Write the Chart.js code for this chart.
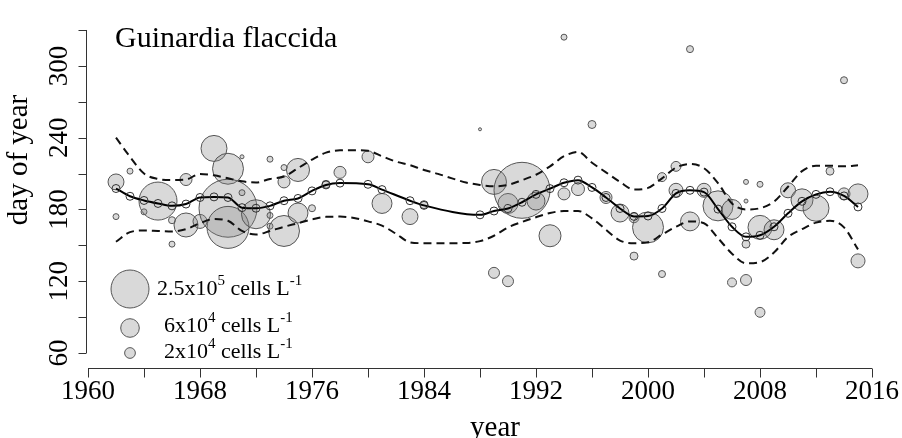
<!DOCTYPE html>
<html>
<head>
<meta charset="utf-8">
<script src="https://cdn.jsdelivr.net/npm/chart.js"></script>
<style>
html,body{margin:0;padding:0;background:#fff;}
#wrap{width:902px;height:438px;}
</style>
</head>
<body>
<div id="wrap"><canvas id="c" width="902" height="438"></canvas></div>
<script>
// ---- data ----
const chartTitle = "Guinardia flaccida";
const xTitle = "year";
const yTitle = "day of year";
const xTickValues = [1960,1964,1968,1972,1976,1980,1984,1988,1992,1996,2000,2004,2008,2012,2016];
const xTickLabels = ["1960","","1968","","1976","","1984","","1992","","2000","","2008","","2016"];
const yTickValues = [60,90,120,150,180,210,240,270,300,330];
const yTickLabels = ["60","","120","","180","","240","","300",""];

// observations: year, day of year, abundance (cells per litre)
const obsYear = [1962,1962,1963,1964,1965,1966,1966,1967,1967,1968,1969,1970,1970,1970,1971,1971,1972,1973,1973,1973,1974,1974,1974,1975,1975,1976,1977,1978,1980,1981,1983,1984,1988,1989,1989,1990,1990,1991,1992,1993,1994,1994,1995,1996,1997,1998,1999,1999,2000,2001,2001,2002,2002,2003,2003,2004,2005,2006,2006,2007,2007,2007,2007,2008,2008,2008,2009,2010,2011,2012,2013,2014,2014,2015,2015];
const obsDay  = [203,174,212,178,187,151,171,205,167,170,231,214,181,165,224,194,176,222,175,166,215,203,162,213,177,181,201,211,224,185,174,184,247,203,127,185,120,196,187,158,324,193,197,251,190,177,173,141,165,207,126,216,196,314,170,196,183,180,119,203,187,151,121,201,165,94,163,196,188,181,212,288,193,193,137];
const obsCells= [44000,6200,6200,6200,250000,6200,8500,25000,100000,34000,117000,166000,582000,305000,2800,6200,146000,6200,6200,6200,6200,25000,166000,92000,69000,8500,11000,25000,25000,69000,44000,11000,1600,108000,21000,69000,21000,543000,56000,84000,6200,25000,29000,11000,25000,56000,17000,11000,166000,14000,8500,17000,34000,8500,62000,34000,156000,69000,14000,4300,2800,11000,21000,6200,100000,17000,69000,39000,84000,117000,11000,8500,25000,69000,34000];

// smoothed trend at sampled years
const fitYear = [1962,1963,1964,1965,1966,1967,1968,1969,1970,1971,1972,1973,1974,1975,1976,1977,1978,1980,1981,1983,1984,1988,1989,1990,1991,1992,1993,1994,1995,1996,1997,1998,1999,2000,2001,2002,2003,2004,2005,2006,2007,2008,2009,2010,2011,2012,2013,2014,2015];
const fitDay  = [197.5,191,187.5,185,183,184.5,190,190.5,190,181.5,181,183,187.3,189.2,195.5,200.5,202,201,196.6,187.3,183.4,175.5,178.7,180.8,186,192.6,197.4,202.3,204.5,198.4,190,180.8,174.2,174.5,180.8,193.4,196,194.5,180.3,165.5,157.1,158.4,165.5,176.8,186.8,192.6,194.8,191.3,182.1];

// confidence band
const bandYear  = [1962,1963,1964,1965,1966,1967,1968,1969,1970,1971,1972,1973,1974,1975,1976,1977,1978,1979,1980,1981,1982,1983,1984,1985,1986,1987,1988,1989,1990,1991,1992,1993,1994,1995,1996,1997,1998,1999,2000,2001,2002,2003,2004,2005,2006,2007,2008,2009,2010,2011,2012,2013,2014,2015];
const bandUpper = [240,224,210,205.5,204.5,205,209.7,208.5,206,203.5,202.5,205.5,207.5,214.5,221.6,227.5,229.4,229.5,229,224.5,220,217,213,209.7,206,202.5,200.5,199.3,200.5,204.5,209,216,224.5,228,219,211,203,196.6,198,206,215,218,214.5,202,185,180,181,186.5,199,212,216.5,216.5,216,217];
const bandLower = [153,161,162.4,162,161.6,163.5,168.5,172,170.5,162,159,162,165.5,168.5,171.6,173.8,174,172.9,170,166.5,159.7,152.5,151.8,151.8,151.8,152,153.5,158,165,169.5,173.5,177,178.7,178.7,172.5,163,154,151.8,152.5,159,165.5,170,168.5,156,143,135,136,144,157,163.5,169,170.5,165,146.6];

// legend reference abundances
const legendCells = [250000, 60000, 20000];
const legendBase  = ["2.5x10", "6x10", "2x10"];
const legendExp   = ["5", "4", "4"];

// ---- build ----
const radiusOf = c => 0.038 * Math.sqrt(c);
const serif = '"Liberation Serif", "Times New Roman", serif';
const bubbleFill = 'rgba(128,128,128,0.3)';
const bubbleEdge = '#555555';

const bubbles = obsYear.map((y,i)=>({x:y, y:obsDay[i], r:radiusOf(obsCells[i])}));
const fit = fitYear.map((y,i)=>({x:y, y:fitDay[i]}));
const up = bandYear.map((y,i)=>({x:y, y:bandUpper[i]}));
const lo = bandYear.map((y,i)=>({x:y, y:bandLower[i]}));

const rAxes = {
  id:'rAxes',
  afterDraw(chart){
    const ctx = chart.ctx, xs = chart.scales.x, ys = chart.scales.y, ca = chart.chartArea;
    ctx.save();
    ctx.strokeStyle = '#333'; ctx.lineWidth = 1; ctx.fillStyle = '#000';
    // y axis
    const ax = Math.round(ca.left) - 1.5;
    ctx.beginPath();
    ctx.moveTo(ax, ys.getPixelForValue(yTickValues[0]));
    ctx.lineTo(ax, ys.getPixelForValue(yTickValues[yTickValues.length-1]));
    yTickValues.forEach(v=>{ const py = Math.round(ys.getPixelForValue(v))+0.5; ctx.moveTo(ax,py); ctx.lineTo(ax-8,py); });
    ctx.stroke();
    ctx.font = '27px ' + serif; ctx.textAlign = 'center'; ctx.textBaseline = 'alphabetic';
    yTickValues.forEach((v,i)=>{
      if(!yTickLabels[i]) return;
      ctx.save(); ctx.translate(67, ys.getPixelForValue(v)); ctx.rotate(-Math.PI/2);
      ctx.fillText(yTickLabels[i], 0, 0); ctx.restore();
    });
    // x axis
    const ay = Math.round(ca.bottom) + 15.5;
    ctx.beginPath();
    ctx.moveTo(xs.getPixelForValue(xTickValues[0]), ay);
    ctx.lineTo(xs.getPixelForValue(xTickValues[xTickValues.length-1]), ay);
    xTickValues.forEach(v=>{ const px = Math.round(xs.getPixelForValue(v))+0.5; ctx.moveTo(px,ay); ctx.lineTo(px,ay+9); });
    ctx.stroke();
    xTickValues.forEach((v,i)=>{ if(xTickLabels[i]) ctx.fillText(xTickLabels[i], xs.getPixelForValue(v), 399); });
    // axis titles
    ctx.font = '29px ' + serif;
    ctx.fillText(xTitle, 495, 436);
    ctx.save(); ctx.translate(27, 160); ctx.rotate(-Math.PI/2); ctx.fillText(yTitle, 0, 0); ctx.restore();
    // chart title
    ctx.textAlign = 'left'; ctx.font = '30px ' + serif;
    ctx.fillText(chartTitle, 115, 47);
    // size legend
    const lc = [[130,289],[130,328],[130,353]];
    const lt = [[157,295],[164,332],[164,358]];
    legendCells.forEach((c,i)=>{
      ctx.beginPath(); ctx.arc(lc[i][0], lc[i][1], radiusOf(c), 0, Math.PI*2);
      ctx.fillStyle = bubbleFill; ctx.fill(); ctx.strokeStyle = bubbleEdge; ctx.stroke();
      ctx.fillStyle = '#000';
      let x = lt[i][0]; const y = lt[i][1];
      ctx.font = '22px ' + serif; ctx.fillText(legendBase[i], x, y); x += ctx.measureText(legendBase[i]).width;
      ctx.font = '15px ' + serif; ctx.fillText(legendExp[i], x, y-10); x += ctx.measureText(legendExp[i]).width;
      ctx.font = '22px ' + serif; ctx.fillText(' cells L', x, y); x += ctx.measureText(' cells L').width;
      ctx.font = '15px ' + serif; ctx.fillText('-1', x, y-10);
    });
    ctx.restore();
  }
};

new Chart(document.getElementById('c'), {
  type: 'scatter',
  data: { datasets: [
    { type:'line', data: fit, borderColor:'#000', borderWidth:2, pointRadius:4, pointBackgroundColor:'rgba(0,0,0,0)', pointBorderColor:'#333', pointBorderWidth:1, cubicInterpolationMode:'monotone', fill:false, clip:false, order:1 },
    { type:'line', data: up, borderColor:'#111', borderWidth:2, borderDash:[8,5], pointRadius:0, cubicInterpolationMode:'monotone', fill:false, clip:false, order:2 },
    { type:'line', data: lo, borderColor:'#111', borderWidth:2, borderDash:[8,5], pointRadius:0, cubicInterpolationMode:'monotone', fill:false, clip:false, order:3 },
    { type:'bubble', data: bubbles, backgroundColor: bubbleFill, borderColor: bubbleEdge, borderWidth:1, clip:false, order:4 }
  ]},
  options: {
    responsive:false, animation:false, events:[], devicePixelRatio:1,
    layout:{ padding:{ left:88, right:28, top:11, bottom:85 } },
    plugins:{ legend:{display:false}, tooltip:{enabled:false}, title:{display:false} },
    scales:{
      x:{ type:'linear', min:1960, max:2016, display:false },
      y:{ type:'linear', min:60, max:330, display:false }
    }
  },
  plugins:[rAxes]
});
</script>
</body>
</html>
